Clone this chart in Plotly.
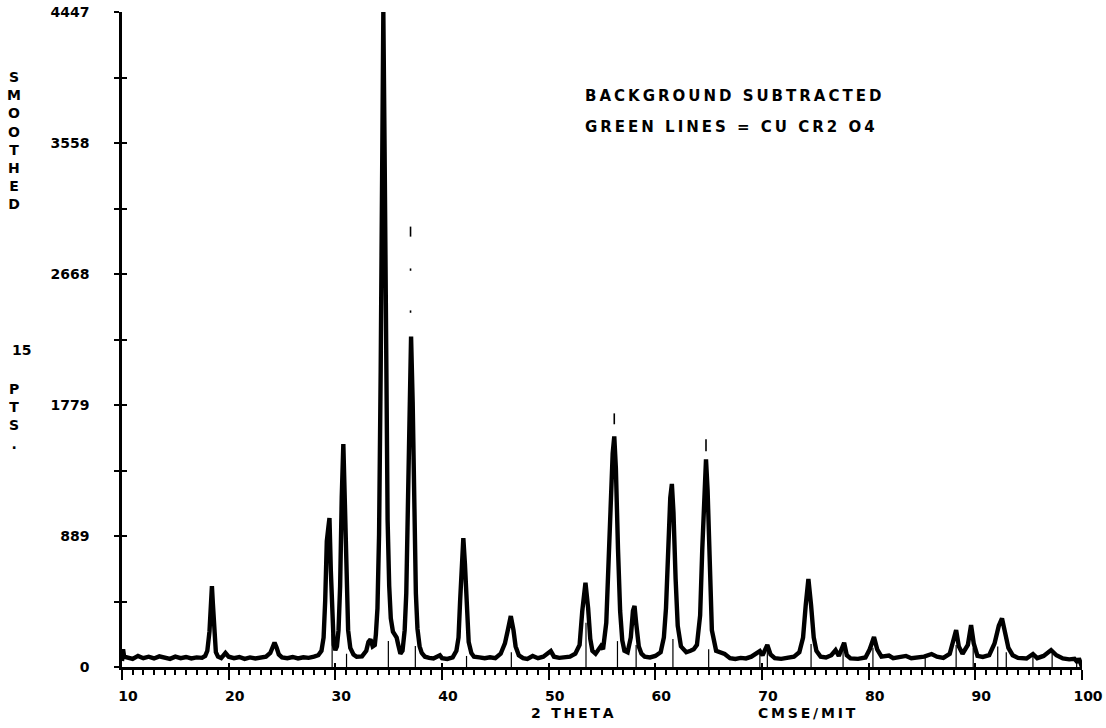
import plotly.graph_objects as go

# Smoothed diffraction scan (15-point smoothing, background subtracted)
two_theta = [
    10.0, 10.1, 10.2, 10.5, 11.0, 11.5, 12.0, 12.5, 13.0, 13.5, 14.0, 14.5, 15.0, 15.5,
    16.0, 16.5, 17.0, 17.5, 17.8, 18.0, 18.2, 18.35, 18.43, 18.52, 18.65, 18.8, 19.0,
    19.3, 19.7, 20.0, 20.5, 21.0, 21.5, 22.0, 22.5, 23.0, 23.5, 23.9, 24.1, 24.3, 24.5,
    24.7, 25.0, 25.5, 26.0, 26.5, 27.0, 27.5, 28.0, 28.4, 28.7, 28.9, 29.05, 29.2, 29.35,
    29.45, 29.58, 29.7, 29.85, 30.0, 30.15, 30.3, 30.45, 30.6, 30.75, 30.9, 31.05, 31.2,
    31.4, 31.7, 32.0, 32.5, 32.9, 33.1, 33.3, 33.5, 33.7, 33.8, 33.95, 34.1, 34.25, 34.38,
    34.5, 34.62, 34.75, 34.9, 35.05, 35.2, 35.4, 35.6, 35.75, 35.9, 36.1, 36.3, 36.5,
    36.65, 36.8, 36.95, 37.1, 37.25, 37.4, 37.55, 37.7, 37.9, 38.1, 38.4, 38.8, 39.2,
    39.8, 40.0, 40.5, 41.0, 41.35, 41.55, 41.7, 41.85, 42.0, 42.15, 42.3, 42.5, 42.75,
    43.0, 43.5, 44.0, 44.5, 45.0, 45.5, 45.9, 46.2, 46.45, 46.7, 46.9, 47.2, 47.6, 48.0,
    48.5, 49.0, 49.5, 50.2, 50.5, 51.0, 51.5, 52.0, 52.5, 52.9, 53.15, 53.45, 53.7,
    53.9, 54.1, 54.4, 54.9, 55.1, 55.4, 55.6, 55.8, 56.0, 56.15, 56.3, 56.5, 56.7, 56.9,
    57.1, 57.4, 57.7, 57.9, 58.05, 58.2, 58.45, 58.7, 59.0, 59.5, 60.0, 60.5, 60.8,
    61.0, 61.2, 61.4, 61.55, 61.7, 61.9, 62.1, 62.4, 62.9, 63.3, 63.6, 63.9, 64.2, 64.4,
    64.6, 64.75, 64.9, 65.1, 65.3, 65.7, 66.1, 66.5, 67.0, 67.5, 68.0, 68.5, 69.0, 69.5,
    69.8, 70.05, 70.5, 70.8, 71.2, 71.8, 72.5, 73.0, 73.5, 73.85, 74.1, 74.35, 74.6,
    74.85, 75.1, 75.5, 76.0, 76.5, 76.9, 77.2, 77.7, 77.95, 78.3, 79.0, 79.7, 80.1, 80.5,
    80.8, 81.2, 81.9, 82.3, 83.0, 83.5, 84.0, 84.5, 85.2, 85.9, 86.4, 87.0, 87.6, 87.9,
    88.2, 88.45, 88.8, 89.3, 89.6, 89.85, 90.2, 90.7, 91.3, 91.8, 92.2, 92.5, 92.75,
    93.1, 93.5, 94.0, 94.8, 95.4, 95.8, 96.4, 97.1, 97.6, 98.2, 98.8, 99.3, 99.6, 99.7,
    100.0,
]
counts = [
    40, 120, 70, 65, 55, 75, 60, 70, 58, 72, 62, 55, 70, 60,
    68, 58, 65, 62, 75, 110, 240, 470, 549, 430, 200, 100, 70,
    60, 95, 70, 60, 68, 55, 65, 58, 66, 70, 95, 140, 165, 130,
    85, 65, 60, 68, 58, 66, 62, 70, 80, 110, 200, 450, 854, 950,
    1012, 650, 300, 150, 115, 140, 250, 550, 1150, 1514, 1100, 500, 250,
    130, 85, 70, 72, 110, 170, 188, 140, 150, 220, 400, 900, 2000, 3600,
    4447, 3500, 2000, 1000, 550, 330, 240, 210, 199, 150, 90, 110, 250,
    500, 1100, 1800, 2244, 1800, 1000, 500, 260, 140, 95, 70, 62, 58,
    80, 60, 55, 65, 110, 200, 450, 750, 875, 700, 380, 170, 95,
    70, 65, 60, 66, 60, 90, 160, 260, 346, 250, 140, 80, 60, 55,
    75, 60, 70, 108, 70, 62, 65, 70, 90, 150, 380, 572, 400,
    190, 110, 90, 142, 120, 300, 700, 1150, 1450, 1566, 1350, 800, 380, 180,
    110, 100, 200, 380, 414, 300, 140, 90, 70, 65, 75, 100, 200,
    400, 800, 1150, 1243, 1050, 600, 280, 140, 100, 110, 120, 150, 350, 800,
    1250, 1410, 1200, 600, 250, 110, 95, 88, 60, 55, 62, 58, 70, 90,
    108, 80, 149, 85, 60, 55, 62, 70, 100, 200, 420, 597, 420,
    200, 110, 70, 65, 80, 115, 75, 165, 80, 58, 55, 65, 120, 203,
    120, 70, 78, 60, 65, 75, 60, 62, 70, 88, 70, 62, 90, 170,
    251, 140, 90, 150, 285, 160, 75, 68, 80, 160, 280, 330, 240,
    130, 80, 62, 58, 88, 60, 75, 115, 80, 58, 52, 55, 30, 60,
    0,
]

# CuCr2O4 reference lines
line_pos = [29.7, 31.05, 34.97, 37.5, 42.3, 46.5, 53.5, 56.45, 58.2, 61.65, 65.0,
            69.8, 70.5, 74.6, 77.6, 80.4, 85.3, 88.2, 89.8, 92.1, 92.9, 95.4, 97.2, 99.5]
line_hgt = [224, 90, 176, 142, 75, 100, 300, 176, 150, 190, 120,
            90, 110, 156, 120, 130, 70, 150, 130, 140, 100, 70, 90, 60]

# tops of the reference lines standing above the strongest peaks
top_pos = [37.05, 37.05, 37.05, 56.15, 64.75]
top_lo = [2922, 2690, 2405, 1648, 1464]
top_hi = [2990, 2706, 2421, 1722, 1546]

Y_FULL = 4447
y_tick_text = ["0", "889", "1779", "2668", "3558", "4447"]
x_tick_vals = [10, 20, 30, 40, 50, 60, 70, 80, 90, 100]

FONT = "DejaVu Sans"
THIN = "\u2009"


def spread(s):
    return THIN.join(s)


y_tick_vals = [Y_FULL * i / 10 for i in range(11)]
y_tick_lbls = [y_tick_text[i // 2] if i % 2 == 0 else "" for i in range(11)]

stick_x, stick_y = [], []
for p, h in zip(line_pos, line_hgt):
    stick_x += [p, p, None]
    stick_y += [0, h, None]

top_x, top_y = [], []
for p, lo, hi in zip(top_pos, top_lo, top_hi):
    top_x += [p, p, None]
    top_y += [lo, hi, None]

fig = go.Figure()
fig.add_trace(go.Scatter(x=stick_x, y=stick_y, mode="lines",
                         line=dict(color="black", width=1.2),
                         xaxis="x2", yaxis="y2", hoverinfo="skip"))
fig.add_trace(go.Scatter(x=top_x, y=top_y, mode="lines",
                         line=dict(color="black", width=1.6),
                         xaxis="x2", yaxis="y2", hoverinfo="skip"))
fig.add_trace(go.Scatter(x=two_theta, y=counts, mode="lines",
                         line=dict(color="black", width=4.4)))

tick_font = dict(family=FONT, size=14, color="black", weight="bold")

fig.update_layout(
    width=1106, height=728,
    margin=dict(l=122, r=24, t=12, b=61),
    paper_bgcolor="white", plot_bgcolor="white",
    showlegend=False,
    xaxis=dict(range=[10, 100], tickvals=x_tick_vals, ticks="outside",
               ticklen=10, tickwidth=2, tickcolor="black",
               showline=True, linewidth=2.5, linecolor="black",
               showgrid=False, zeroline=False, tickfont=tick_font,
               ticklabelstandoff=4, ticklabelshift=6, automargin=False,
               minor=dict(dtick=1, ticks="outside", ticklen=5,
                          tickwidth=1.5, tickcolor="black", showgrid=False)),
    yaxis=dict(range=[0, Y_FULL], tickvals=y_tick_vals, ticktext=y_tick_lbls,
               ticks="outside", ticklen=5, tickwidth=2, tickcolor="black",
               showline=True, linewidth=2.5, linecolor="black",
               showgrid=False, zeroline=False, tickfont=tick_font,
               ticklabelstandoff=22, automargin=False),
    xaxis2=dict(range=[10, 100], overlaying="x", anchor="y2", side="bottom",
                tickvals=x_tick_vals, ticks="inside", ticklen=4, tickwidth=2,
                tickcolor="black", showticklabels=False, showline=False,
                showgrid=False, zeroline=False, automargin=False),
    yaxis2=dict(range=[0, Y_FULL], overlaying="y", anchor="x2", side="left",
                tickvals=y_tick_vals, ticks="inside", ticklen=5, tickwidth=2,
                tickcolor="black", showticklabels=False, showline=False,
                showgrid=False, zeroline=False, automargin=False),
)

label_font = dict(family=FONT, size=14, color="black", weight="bold")
notes = [
    ("S<br>M<br>O<br>O<br>T<br>H<br>E<br>D", -0.1125, 0.804),
    ("15", -0.105, 0.484),
    ("P<br>T<br>S<br>.", -0.1125, 0.382),
    (spread("2 THETA"), 0.469, -0.070),
    (spread("CMSE/MIT"), 0.714, -0.070),
]
for text, x, y in notes:
    fig.add_annotation(text=text, x=x, y=y, xref="paper", yref="paper",
                       xanchor="center", yanchor="middle", showarrow=False,
                       font=label_font, align="center")

box_font = dict(family=FONT, size=15, color="black", weight="bold")
fig.add_annotation(text=spread("BACKGROUND SUBTRACTED"), x=0.480, y=0.872,
                   xref="paper", yref="paper", xanchor="left", yanchor="middle",
                   showarrow=False, font=box_font)
fig.add_annotation(text=spread("GREEN LINES = CU CR2 O4"), x=0.480, y=0.824,
                   xref="paper", yref="paper", xanchor="left", yanchor="middle",
                   showarrow=False, font=box_font)

fig.write_html("out.html")
